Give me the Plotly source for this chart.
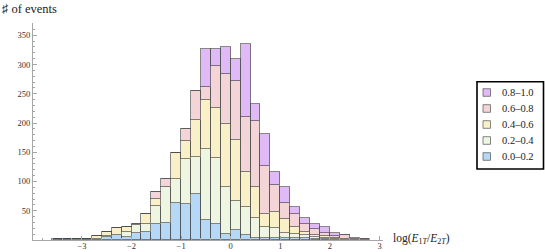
import plotly.graph_objects as go

# ---- data ----
bin_left = [-3.6, -3.4, -3.2, -3.0, -2.8, -2.6, -2.4, -2.2, -2.0, -1.8, -1.6, -1.4,
            -1.2, -1.0, -0.8, -0.6, -0.4, -0.2, 0.0, 0.2, 0.4, 0.6, 0.8, 1.0,
            1.2, 1.4, 1.6, 1.8, 2.0, 2.2, 2.4, 2.6]
bin_width = 0.2

s_00_02 = [1, 1, 0, 1, 1, 5, 8, 5, 12, 13, 28, 29, 63, 62, 78, 34, 27, 11, 17, 9, 4, 3, 4, 3, 4, 3, 2, 1, 0, 0, 0, 0]
s_02_04 = [0, 0, 1, 0, 1, 2, 1, 9, 13, 15, 30, 61, 42, 76, 64, 121, 113, 80, 50, 48, 33, 19, 16, 9, 6, 5, 3, 2, 1, 1, 0, 0]
s_04_06 = [0, 0, 0, 1, 4, 6, 11, 8, 1, 16, 12, 0, 43, 31, 64, 85, 85, 108, 104, 60, 54, 22, 28, 24, 12, 5, 4, 3, 2, 1, 1, 0]
s_06_08 = [0, 0, 0, 0, 0, 0, 0, 1, 2, 0, 12, 15, 0, 21, 48, 22, 73, 84, 101, 94, 112, 83, 46, 28, 22, 15, 10, 6, 4, 6, 1, 1]
s_08_10 = [0, 0, 0, 0, 0, 0, 0, 0, 0, 0, 0, 0, 0, 0, 0, 65, 28, 47, 37, 124, 29, 55, 22, 26, 12, 10, 8, 10, 5, 0, 1, 0]

series_names = ["0.0\u20130.2", "0.2\u20130.4", "0.4\u20130.6", "0.6\u20130.8", "0.8\u20131.0"]
series_values = [s_00_02, s_02_04, s_04_06, s_06_08, s_08_10]
series_colors = ["#B4D8F5", "#EEF5E0", "#FAF0C8", "#F3D5D7", "#DFBAF7"]

x_ticks = [-3, -2, -1, 0, 1, 2, 3]
y_ticks = [50, 100, 150, 200, 250, 300, 350]

# ---- layout geometry (pixels) ----
W, H = 545, 252
L, R, T, B = 33, 383, 23, 240


def px(x):
    return (x - L) / (R - L)


def py(y):
    return (B - y) / (B - T)


SERIF = "Liberation Serif, DejaVu Serif, serif"
EDGE = "rgba(70,70,70,0.65)"
AXIS = "#a6a6a6"

centers = [e + bin_width / 2 for e in bin_left]

fig = go.Figure()
for name, vals, col in zip(series_names, series_values, series_colors):
    fig.add_trace(go.Bar(
        x=centers, y=vals, width=bin_width, name=name,
        marker=dict(color=col, line=dict(color=EDGE, width=1)),
        showlegend=False,
    ))

fig.update_layout(
    width=W, height=H,
    margin=dict(l=L, r=W - R, t=T, b=H - B, autoexpand=False),
    barmode="stack", bargap=0,
    paper_bgcolor="white", plot_bgcolor="white",
    font=dict(family=SERIF, size=9, color="#333333"),
    xaxis=dict(
        range=[-3.986, 3.07], showgrid=False, zeroline=False,
        showline=True, linecolor=AXIS, linewidth=1,
        tickvals=x_ticks, ticks="inside", ticklen=4, tickcolor=AXIS,
        minor=dict(tick0=0, dtick=0.2, ticks="inside", ticklen=2, tickcolor=AXIS),
        tickfont=dict(size=8.5, family=SERIF, color="#333333"),
        ticklabelstandoff=-2,
    ),
    yaxis=dict(
        range=[0, 371], showgrid=False, zeroline=False,
        showline=True, linecolor=AXIS, linewidth=1,
        tickvals=y_ticks, ticks="inside", ticklen=4, tickcolor=AXIS,
        minor=dict(tick0=0, dtick=10, ticks="inside", ticklen=2, tickcolor=AXIS),
        tickfont=dict(size=8.5, family=SERIF, color="#333333"),
    ),
)

annotations = [
    dict(text="\u266F of events", x=px(0), y=py(9), xref="paper", yref="paper",
         xanchor="left", yanchor="middle", showarrow=False,
         font=dict(size=12.5, family=SERIF, color="#222222")),
    dict(text="log(<i>E</i><sub>1<i>T</i></sub>/<i>E</i><sub>2<i>T</i></sub>)",
         x=px(391), y=py(239), xref="paper", yref="paper",
         xanchor="left", yanchor="middle", showarrow=False,
         font=dict(size=11.5, family=SERIF, color="#222222")),
]

shapes = [
    dict(type="rect", xref="paper", yref="paper",
         x0=px(477), x1=px(543.5), y0=py(169), y1=py(81.7),
         line=dict(color="black", width=1.6), fillcolor="white", layer="above"),
]

# custom legend, top entry = last series
for i, (name, col) in enumerate(zip(series_names[::-1], series_colors[::-1])):
    yc = 92.5 + 16 * i
    shapes.append(dict(type="rect", xref="paper", yref="paper",
                       x0=px(483), x1=px(490.5), y0=py(yc + 3.8), y1=py(yc - 3.8),
                       line=dict(color=EDGE, width=1), fillcolor=col, layer="above"))
    annotations.append(dict(text=name, x=px(499.5), y=py(yc), xref="paper", yref="paper",
                            xanchor="left", yanchor="middle", showarrow=False,
                            font=dict(size=10.5, family=SERIF, color="#222222")))

fig.update_layout(annotations=annotations, shapes=shapes)
fig.write_html("out.html",
               config={"displayModeBar": False},
               post_script="document.body.style.margin='0';document.body.style.overflow='hidden';")
